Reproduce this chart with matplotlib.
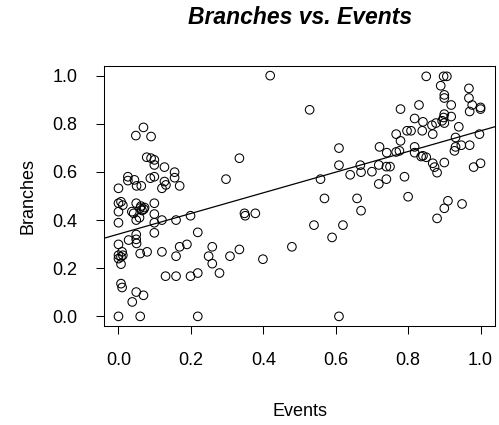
import numpy as np
import matplotlib
matplotlib.use("Agg")
import matplotlib.pyplot as plt

plt.rcParams['font.family'] = ['Liberation Sans', 'DejaVu Sans']

events = [0.069, 0.048, 0.09, 0.078, 0.09, 0.099, 0.099, 0.127, 0.155, 0.155, 0.169,
          0.026, 0.026, 0.044, 0.05, 0.088, 0.099, 0.127, 0.131, 0.12, 0.0, 0.063,
          0.0, 0.007, 0.012, 0.0, 0.0, 0.049, 0.037, 0.042, 0.06, 0.065, 0.07, 0.072,
          0.062, 0.049, 0.058, 0.099, 0.099, 0.099, 0.12, 0.159, 0.199, 0.099, 0.219,
          0.0, 0.049, 0.049, 0.05, 0.028, 0.0, 0.0, 0.007, 0.012, 0.01, 0.007, 0.06,
          0.079, 0.12, 0.159, 0.169, 0.189, 0.13, 0.159, 0.199, 0.219, 0.249, 0.259,
          0.259, 0.279, 0.308, 0.334, 0.007, 0.01, 0.049, 0.069, 0.038, 0.0, 0.06, 0.219,
          0.297, 0.334, 0.419, 0.528, 0.609, 0.609, 0.558, 0.64, 0.668, 0.67, 0.569,
          0.659, 0.348, 0.35, 0.378, 0.399, 0.479, 0.54, 0.62, 0.59, 0.67, 0.609,
          0.85, 0.898, 0.907, 0.89, 0.9, 0.9, 0.968, 0.968, 0.977, 1.0, 1.0, 0.97,
          0.779, 0.83, 0.919, 0.9, 0.898, 0.894, 0.919, 0.818, 0.841, 0.866, 0.877,
          0.9, 0.94, 0.797, 0.808, 0.839, 0.868, 0.767, 0.779, 0.931, 0.997, 0.931,
          0.947, 0.97, 0.721, 0.741, 0.767, 0.776, 0.818, 0.818, 0.841, 0.928,
          0.719, 0.74, 0.75, 0.7, 0.74, 0.719, 0.79, 0.8, 0.836, 0.85, 0.868, 0.873,
          0.88, 0.9, 0.981, 1.0, 0.91, 0.9, 0.949, 0.88]
branches = [0.785, 0.751, 0.747, 0.661, 0.657, 0.65, 0.629, 0.62, 0.599, 0.576, 0.542,
            0.58, 0.564, 0.567, 0.542, 0.574, 0.58, 0.56, 0.546, 0.532, 0.532, 0.542,
            0.47, 0.476, 0.462, 0.435, 0.389, 0.47, 0.435, 0.428, 0.45, 0.44, 0.445, 0.452,
            0.458, 0.4, 0.41, 0.47, 0.425, 0.389, 0.4, 0.4, 0.418, 0.347, 0.349,
            0.299, 0.34, 0.32, 0.303, 0.317, 0.254, 0.24, 0.247, 0.254, 0.268, 0.217, 0.261,
            0.268, 0.268, 0.25, 0.289, 0.299, 0.167, 0.167, 0.167, 0.18, 0.25, 0.289,
            0.219, 0.18, 0.25, 0.278, 0.136, 0.12, 0.101, 0.0875, 0.06, 0.0, 0.0, 0.0,
            0.57, 0.657, 1.0, 0.858, 0.699, 0.628, 0.57, 0.588, 0.628, 0.599, 0.49,
            0.49, 0.428, 0.418, 0.428, 0.2375, 0.289, 0.379, 0.379, 0.328, 0.439, 0.0,
            0.997, 0.997, 0.997, 0.958, 0.92, 0.907, 0.947, 0.907, 0.878, 0.868, 0.861, 0.851,
            0.861, 0.878, 0.878, 0.84, 0.826, 0.8125, 0.83, 0.822, 0.808, 0.794, 0.803,
            0.803, 0.7875, 0.771, 0.771, 0.771, 0.757, 0.757, 0.729, 0.743, 0.757, 0.704,
            0.711, 0.711, 0.704, 0.68, 0.683, 0.6875, 0.704, 0.68, 0.667, 0.6875,
            0.629, 0.622, 0.622, 0.601, 0.57, 0.55, 0.58, 0.497, 0.664, 0.661, 0.636, 0.62,
            0.597, 0.639, 0.62, 0.636, 0.48, 0.449, 0.467, 0.407]

ticks = [0.0, 0.2, 0.4, 0.6, 0.8, 1.0]
tick_labels = ["0.0", "0.2", "0.4", "0.6", "0.8", "1.0"]

W, H = 499, 425
fig = plt.figure(figsize=(W / 100, H / 100), dpi=100)
ax = fig.add_axes([104 / W, 1 - 326 / H, 391 / W, 260 / H])

x = np.array(events)
y = np.array(branches)
ax.scatter(x, y, s=6.2 ** 2, facecolors='none', edgecolors='black', linewidths=0.75, zorder=3)

slope, intercept = np.polyfit(x, y, 1)
xl = np.array([-0.04, 1.04])
ax.plot(xl, intercept + slope * xl, color='black', lw=0.9, zorder=2)

ax.set_xlim(-0.04, 1.04)
ax.set_ylim(-0.04, 1.04)
ax.set_xticks(ticks)
ax.set_xticklabels(tick_labels)
ax.set_yticks(ticks)
ax.set_yticklabels(tick_labels)
ax.tick_params(direction='out', length=6, width=0.75, labelsize=13, pad=13)
for s in ax.spines.values():
    s.set_linewidth(0.75)
    s.set_color('black')

fig.text(300 / W, 1 - 17.5 / H, "Branches vs. Events", ha='center', va='center',
         fontsize=16.5, fontweight='bold', fontstyle='italic')
fig.text(299.5 / W, 1 - 411 / H, "Events", ha='center', va='center', fontsize=13)
fig.text(28 / W, 1 - 196 / H, "Branches", ha='center', va='center', fontsize=13, rotation=90)

fig.savefig("out.png", dpi=100)
